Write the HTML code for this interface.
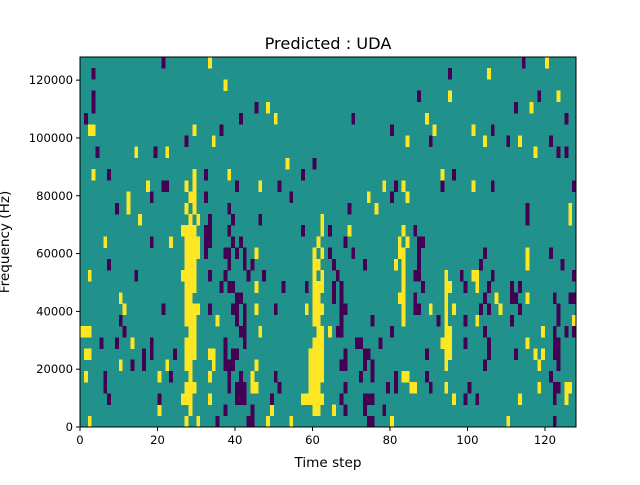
<!DOCTYPE html>
<html><head><meta charset="utf-8"><style>
body{margin:0;background:#fff;}
svg text{font-family:"DejaVu Sans","Liberation Sans",sans-serif;fill:#000;}
</style></head><body>
<svg id="chart" width="640" height="480" viewBox="0 0 640 480" xmlns="http://www.w3.org/2000/svg">
<rect width="640" height="480" fill="#fff"/>
<text x="328" y="49" font-size="16.2" text-anchor="middle">Predicted : UDA</text>
<g id="cells"></g>
<g id="axes"></g>
<text x="328" y="467" font-size="13.6" text-anchor="middle">Time step</text>
<text transform="translate(9,242) rotate(-90)" font-size="13.6" text-anchor="middle">Frequency (Hz)</text>
</svg>
<script>
const nCols = 128;
const nRows = 33;
const xTicks = [0,20,40,60,80,100,120];
const yTicks = [0,20000,40000,60000,80000,100000,120000];
const yMax = 128000;
// [rowFromTop, colStart, colEnd]
const highCells = [
[0,33,33],[0,120,120],[1,105,105],[2,37,37],[3,95,95],[3,123,123],[4,48,48],[4,116,116],[5,50,50],[5,89,89],
[6,2,3],[6,29,29],[6,91,91],[6,101,101],[7,34,34],[7,84,84],[7,104,104],[7,113,113],[8,14,14],[8,22,22],[8,117,117],
[9,53,53],[10,3,3],[10,29,29],[10,38,38],[10,93,93],[11,17,17],[11,27,27],[11,29,29],[11,46,46],[11,78,78],[11,83,83],[11,101,101],
[12,12,12],[12,28,29],[12,74,74],[12,84,84],[13,12,12],[13,27,27],[13,29,29],[13,76,76],[13,126,126],
[14,15,15],[14,28,28],[14,30,30],[14,62,62],[14,126,126],[15,26,29],[15,62,62],[15,69,69],[15,83,83],
[16,6,6],[16,23,23],[16,27,30],[16,61,61],[16,82,82],[16,84,84],
[17,27,30],[17,45,45],[17,60,60],[17,62,62],[17,82,83],[17,115,115],
[18,27,29],[18,60,61],[18,81,81],[18,83,83],[18,115,115],
[19,2,2],[19,26,29],[19,60,60],[19,62,62],[19,83,83],[19,94,94],[19,101,102],
[20,27,29],[20,45,45],[20,60,62],[20,83,83],[20,94,95],[20,102,102],
[21,10,10],[21,27,28],[21,60,61],[21,82,83],[21,94,94],[21,107,107],[21,115,115],
[22,11,11],[22,27,30],[22,45,45],[22,58,58],[22,60,62],[22,83,83],[22,90,90],[22,94,94],[22,96,96],[22,108,108],
[23,27,29],[23,35,35],[23,60,61],[23,83,83],[23,94,94],[23,102,102],[23,127,127],
[24,0,2],[24,28,29],[24,46,46],[24,61,62],[24,64,64],[24,94,95],[24,119,119],
[25,13,13],[25,27,29],[25,60,62],[25,93,95],[25,115,115],
[26,1,2],[26,27,29],[26,33,34],[26,59,62],[26,94,95],[26,117,117],[26,119,119],
[27,10,10],[27,22,22],[27,27,28],[27,34,34],[27,45,45],[27,59,62],[27,94,94],[27,118,118],
[28,1,1],[28,20,20],[28,28,28],[28,33,33],[28,44,44],[28,59,62],[28,83,84],
[29,27,29],[29,44,45],[29,59,61],[29,85,86],[29,94,94],[29,118,118],[29,125,126],
[30,26,28],[30,33,33],[30,57,62],[30,96,96],[30,113,113],[30,125,125],
[31,20,20],[31,28,28],[31,49,49],[31,60,61],[31,65,65],
[32,2,2],[32,27,27],[32,30,30],[32,48,48],[32,54,54],[32,80,80],[32,110,110]
];
const lowCells = [
[0,21,21],[0,114,114],[1,3,3],[1,95,95],[3,3,3],[3,87,87],[3,118,118],[4,3,3],[4,45,45],[4,112,112],
[5,1,1],[5,41,41],[5,70,70],[5,125,125],[6,36,36],[6,80,80],[6,106,106],[7,27,27],[7,90,90],[7,110,110],[7,121,121],
[8,4,4],[8,19,19],[8,123,123],[8,125,125],[9,60,60],[10,7,7],[10,32,32],[10,57,57],[10,96,96],
[11,21,22],[11,40,40],[11,51,51],[11,81,81],[11,93,93],[11,106,106],[11,127,127],
[12,18,18],[12,32,32],[12,54,54],[12,80,80],[13,9,9],[13,38,38],[13,69,69],[13,115,115],[14,33,33],[14,39,39],[14,46,46],[14,115,115],
[15,32,33],[15,38,38],[15,57,57],[15,64,64],[15,86,86],
[16,18,18],[16,32,33],[16,39,39],[16,41,41],[16,68,68],[16,87,88],
[17,32,32],[17,37,38],[17,40,40],[17,42,42],[17,64,64],[17,70,70],[17,87,87],[17,104,104],[17,121,121],
[18,7,7],[18,38,38],[18,42,42],[18,44,44],[18,65,65],[18,73,73],[18,87,87],[18,103,103],[18,124,124],
[19,14,14],[19,33,33],[19,37,37],[19,43,43],[19,47,47],[19,66,66],[19,86,87],[19,98,98],[19,106,106],[19,127,127],
[20,36,36],[20,38,39],[20,52,52],[20,58,58],[20,65,65],[20,67,67],[20,88,88],[20,99,99],[20,105,105],[20,111,111],[20,113,113],
[21,40,41],[21,65,65],[21,67,67],[21,86,86],[21,104,104],[21,111,112],[21,122,122],[21,126,127],
[22,21,21],[22,33,33],[22,39,40],[22,42,42],[22,50,50],[22,67,68],[22,86,87],[22,103,103],[22,105,105],[22,113,113],[22,123,123],
[23,10,10],[23,40,40],[23,42,42],[23,67,67],[23,75,75],[23,92,92],[23,99,99],[23,111,111],[23,123,123],
[24,11,11],[24,41,42],[24,66,67],[24,80,80],[24,104,104],[24,122,122],[24,125,125],[24,127,127],
[25,5,5],[25,9,9],[25,18,18],[25,37,37],[25,42,42],[25,71,72],[25,77,77],[25,99,99],[25,105,105],[25,122,123],
[26,16,16],[26,18,18],[26,24,24],[26,37,37],[26,39,40],[26,68,68],[26,73,74],[26,89,89],[26,105,105],[26,112,112],[26,122,123],
[27,13,13],[27,16,16],[27,37,39],[27,67,68],[27,73,73],[27,75,75],[27,104,104],[27,123,123],
[28,6,6],[28,23,23],[28,38,38],[28,41,41],[28,50,50],[28,72,72],[28,75,75],[28,81,81],[28,89,89],[28,121,121],
[29,6,6],[29,38,38],[29,40,42],[29,51,51],[29,68,68],[29,79,79],[29,81,81],[29,90,90],[29,100,100],[29,122,123],
[30,7,7],[30,20,20],[30,40,42],[30,49,49],[30,67,67],[30,73,75],[30,99,99],[30,102,102],[30,122,122],
[31,37,37],[31,44,44],[31,68,68],[31,73,73],[31,78,78],
[32,35,35],[32,43,44],[32,74,75],[32,122,122]
];
const NS='http://www.w3.org/2000/svg';
const L=80,R=576,T=57,B=427;
const xScale=v=>L+v/nCols*(R-L);
const yScale=f=>B-f/yMax*(B-T);
const rowY=r=>B-(nRows-r)*(B-T)/nRows;
const rowH=(B-T)/nRows;
const cells=document.getElementById('cells');
function rect(x,y,w,h,fill){const e=document.createElementNS(NS,'rect');e.setAttribute('x',x);e.setAttribute('y',y);e.setAttribute('width',w);e.setAttribute('height',h);e.setAttribute('fill',fill);e.setAttribute('shape-rendering','crispEdges');return e;}
const bg=rect(L,T,R-L,B-T,'#21918c');


cells.appendChild(bg);
function draw(list,color,name){list.forEach(c=>{const x0=xScale(c[1]),x1=xScale(c[2]+1);const e=rect(x0,rowY(c[0]),x1-x0,rowH+0.3,color);


cells.appendChild(e);});}
draw(highCells,'#fde725','heatmap-cell-high');
draw(lowCells,'#440154','heatmap-cell-low');
const axes=document.getElementById('axes');
const frame=rect(L,T,R-L,B-T,'none');frame.setAttribute('stroke','#000');frame.setAttribute('stroke-width','1');


axes.appendChild(frame);
function line(x1,y1,x2,y2){const e=document.createElementNS(NS,'line');e.setAttribute('x1',x1);e.setAttribute('y1',y1);e.setAttribute('x2',x2);e.setAttribute('y2',y2);e.setAttribute('stroke','#000');return e;}
function txt(x,y,s,anchor){const e=document.createElementNS(NS,'text');e.setAttribute('x',x);e.setAttribute('y',y);e.setAttribute('font-size','11.6');e.setAttribute('text-anchor',anchor);e.textContent=s;return e;}
xTicks.forEach(t=>{const x=xScale(t);const l=line(x,B,x,B+4);


axes.appendChild(l);const s=txt(x,B+17,String(t),'middle');


axes.appendChild(s);});
yTicks.forEach(t=>{const y=yScale(t);const l=line(L-4,y,L,y);


axes.appendChild(l);const s=txt(L-7,y+4,String(t),'end');


axes.appendChild(s);});
</script>
</body></html>
